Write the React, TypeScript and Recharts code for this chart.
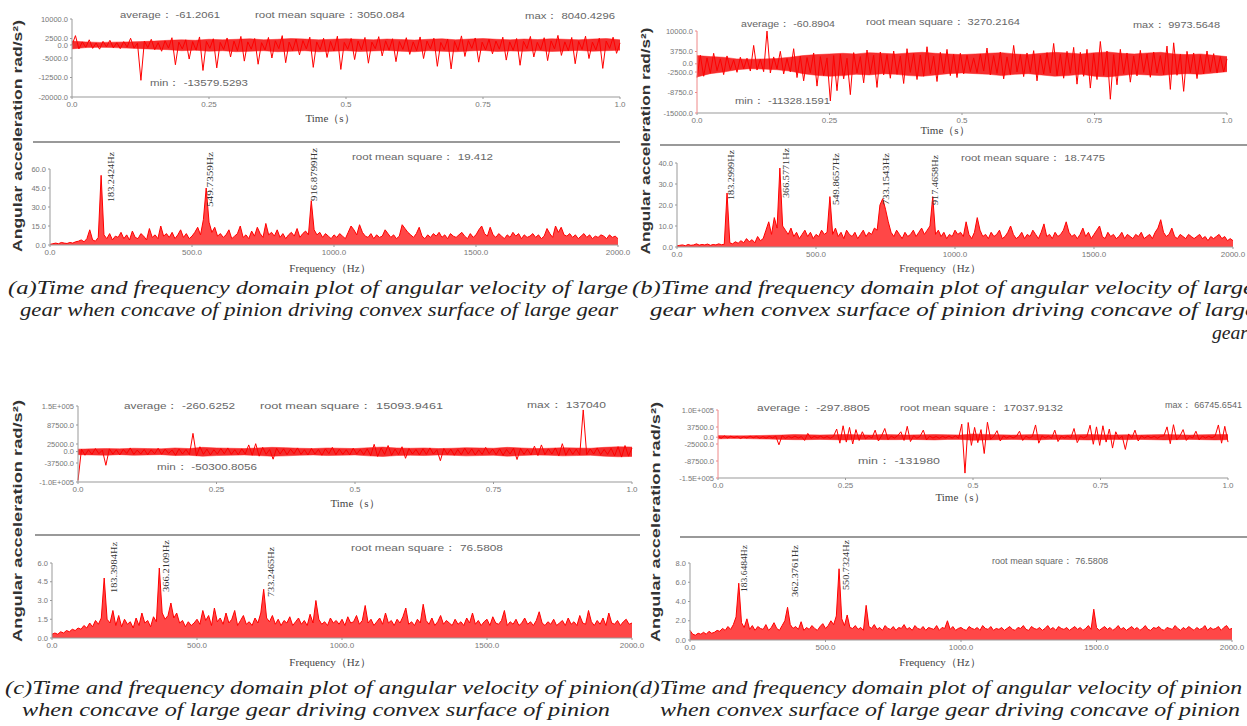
import React from 'react';
import { ComposedChart, Line, Area, XAxis, YAxis } from 'recharts';

// ---------- time-domain signals (sampled 0..1 s) ----------
const timeA = [
  0, 3600, -1500, 1200, -900, 2000, -1300, 800, -1600, 1400, -700, 1800, -1100, 900, -1400, 1300, -800, 2600, -1200, 700,
  -13579, 1500, -1000, 2200, -1800, 900, -2400, 1600, -1200, 2800, -7600, 1100, -1500, 2000, -5400, 1300, -2000, 3100, -9800, 1400,
  -1300, 2400, -8800, 1000, -1700, 2700, -4600, 1500, -2200, 3300, -6200, 1200, -1600, 2500, -7400, 900, -1900, 2900, -5000, 1600,
  -1400, 3600, -6800, 1100, -2100, 2300, -3800, 1700, -1500, 3000, -8600, 1200, -1800, 2600, -4800, 1400, -2300, 3400, -9400, 1000,
  -1600, 2500, -5600, 1500, -1900, 2900, -7000, 1100, -1400, 3200, -4200, 1600, -2000, 2400, -6400, 1300, -1700, 2800, -3600, 1200,
  -2200, 3100, -5200, 1500, -1500, 2600, -8200, 1000, -1800, 2300, -9200, 1400, -2100, 3500, -4400, 1700, -1300, 2700, -6600, 1100,
  -1900, 2200, -3400, 1500, -1600, 3000, -5800, 1200, -2000, 2500, -7800, 1400, -1400, 3300, -4600, 1000, -1800, 2800, -6000, 1600,
  -1500, 3700, -4000, 1200, -2200, 2900, -7200, 1400, -1700, 3400, -5200, 1100, -1900, 2600, -9000, 1500, -1300, 3000, -3200, 800,
];

const timeB = [
  -4200, 2600, -3800, 1800, -2900, 3200, -2100, 1500, -3300, 2400, -1800, 1200, -2600, 2000, -1500, 1700, -2200, 5600, -1900, 1400,
  -2400, 9973, -2800, 2100, -1600, 3800, -3100, 1600, -2500, 4600, -4200, 2300, -5200, 1900, -2700, 3300, -6800, 2200, -3600, 1800,
  -11328, 2500, -8200, 3000, -4600, 1700, -9400, 3400, -2800, 2200, -5800, 4200, -3000, 2600, -7200, 3600, -3400, 2800, -4400, 3900,
  -3200, 2400, -6000, 4600, -2600, 3100, -4800, 2700, -3800, 5200, -3000, 2300, -5400, 3500, -2800, 4400, -3600, 2900, -4200, 3200,
  -3100, 2600, -2400, 1800, -2700, 3000, -2200, 4800, -3400, 2500, -2900, 3600, -4600, 2100, -3300, 5600, -2500, 2800, -3900, 3300,
  -2600, 4000, -5200, 2600, -3100, 3400, -2800, 6200, -3600, 2900, -4400, 3800, -2900, 5000, -6200, 3500, -3800, 4400, -7400, 3100,
  -4800, 6800, -3500, 3900, -10800, 2800, -6400, 4400, -3000, 3300, -5600, 2400, -3700, 4100, -2600, 3000, -4100, 3600, -2800, 2500,
  -3300, 5400, -7800, 6400, -3500, 2900, -8400, 3800, -2700, 3300, -4500, 2600, -3100, 3900, -2400, 3100, -2800, 2200, -2500, 1500,
];

const timeC = [
  -95000, 8000, -12000, 6000, -9000, 10000, -7000, 5000, -45000, 9000, -8000, 6000, -11000, 7000, -6000, 12000, -9000, 5000, -8000, 7000,
  -10000, 6000, -7000, 11000, -9000, 8000, -6000, 5000, -12000, 9000, -8000, 7000, -10000, 60000, -14000, 16000, -9000, 8000, -11000, 6000,
  -8000, 10000, -7000, 12000, -9000, 6000, -10000, 9000, -8000, 22000, -12000, 26000, -15000, 14000, -9000, 7000, -25000, 11000, -8000, 9000,
  -10000, 8000, -7000, 12000, -9000, 6000, -11000, 10000, -8000, 7000, -12000, 9000, -7000, 14000, -10000, 8000, -9000, 6000, -11000, 11000,
  -8000, 7000, -10000, 9000, -13000, 24000, -16000, 12000, -9000, 20000, -12000, 8000, -10000, 16000, -22000, 10000, -8000, 7000, -11000, 9000,
  -9000, 12000, -8000, 6000, -30000, 10000, -9000, 8000, -12000, 7000, -10000, 11000, -8000, 9000, -11000, 6000, -9000, 14000, -7000, 8000,
  -10000, 9000, -12000, 7000, -8000, 11000, -26000, 10000, -9000, 8000, -11000, 18000, -13000, 22000, -10000, 9000, -8000, 12000, -14000, 26000,
  -12000, 10000, -9000, 8000, -11000, 137040, -10000, 9000, -8000, 12000, -10000, 7000, -9000, 11000, -14000, 16000, -18000, 20000, -15000, 12000,
];

const timeD = [
  3000, -4000, 5000, -3000, 4000, -2000, 3000, -5000, 2000, -3000, 4000, -2000, 3000, -4000, 2500, -3500, 3000, -2500, 4000, -28000,
  6000, -5000, 3000, -2500, 4000, -3000, 2500, -12000, 14000, -4000, 3000, -2000, 3500, -3000, 2500, -4000, 3000, 30000, -22000, 42000,
  -18000, 36000, -25000, 28000, -12000, 20000, -6000, 4000, -3000, 26000, -14000, 5000, 32000, -9000, 4000, -3000, 5000, 20000, -12000, 40000,
  -16000, 6000, -4000, 3000, 26000, -10000, 4000, -3000, 2500, -4000, 3000, -2500, 4000, -3000, 5000, -4000, 48000, -131980, 54000, -30000,
  36000, -20000, 28000, -60000, 55000, -8000, 4000, 24000, -14000, 5000, -3000, 4000, -2500, 3000, 22000, -12000, 4000, -3000, 2500, 45000,
  -22000, 5000, -3000, 4000, -4000, 26000, -16000, 3500, -3000, 4000, -2500, 32000, -20000, 4000, -3000, 3000, 44000, -26000, 38000, -30000,
  42000, -18000, 30000, -40000, 20000, -6000, 4000, -45000, 12000, -4000, 26000, -14000, 5000, -3000, 4000, -2500, 3000, -4000, 3500, 5000,
  38000, -24000, 46000, -10000, 4000, 28000, -12000, 3000, -2500, 22000, -10000, 4000, -3000, 3500, -2500, 5000, 45000, -22000, 40000, -18000,
];

// dense-noise envelope of each time signal (41 samples, every 0.025 s)
const bandHiA = [1500, 1200, 1000, 1100, 1200, 1300, 1500, 1800, 2000, 1800, 2200, 2000, 2200, 2400, 2000, 2200, 2500, 2300, 2000, 2200, 2400, 2200, 2000, 2300, 2100, 1900, 2200, 2400, 2000, 2300, 2500, 2200, 2000, 2300, 2100, 2400, 2200, 2000, 2300, 2500, 2000];
const bandLoA = [-1500, -1000, -900, -1000, -1200, -1400, -1600, -1800, -2200, -2000, -2400, -2200, -2600, -2400, -2200, -2600, -2400, -2200, -2600, -2400, -2200, -2500, -2300, -2100, -2400, -2600, -2200, -2400, -2600, -2300, -2100, -2500, -2300, -2400, -2200, -2500, -2300, -2100, -2400, -2200, -2000];
const bandHiB = [2500, 2200, 2000, 1500, 1400, 1500, 1600, 2000, 2500, 2800, 3000, 3200, 3000, 3400, 3200, 3000, 3300, 3500, 3200, 3000, 2800, 3000, 3200, 3400, 3000, 2800, 3200, 3500, 3300, 3000, 3400, 3600, 3200, 3000, 3300, 3500, 3000, 2800, 3000, 2600, 2200];
const bandLoB = [-4000, -3000, -2500, -1800, -1500, -1600, -1800, -2200, -3000, -3500, -3800, -3600, -3200, -3400, -3000, -3200, -3600, -3800, -3400, -3000, -2800, -3000, -3200, -3600, -3200, -3000, -3400, -3800, -3600, -3200, -3800, -4000, -3600, -3200, -3400, -3600, -3200, -3000, -3200, -2800, -2400];
const bandHiC = [8000, 9000, 10000, 9000, 11000, 10000, 9000, 12000, 10000, 14000, 12000, 11000, 10000, 12000, 14000, 13000, 11000, 10000, 12000, 11000, 10000, 13000, 15000, 12000, 11000, 12000, 10000, 11000, 13000, 12000, 11000, 14000, 12000, 10000, 11000, 13000, 12000, 11000, 14000, 16000, 15000];
const bandLoC = [-10000, -11000, -12000, -10000, -12000, -11000, -10000, -13000, -12000, -15000, -13000, -12000, -11000, -13000, -15000, -14000, -12000, -11000, -13000, -12000, -11000, -14000, -16000, -13000, -12000, -13000, -11000, -12000, -14000, -13000, -12000, -15000, -13000, -11000, -12000, -14000, -13000, -12000, -15000, -17000, -16000];
const bandHiD = [6000, 5000, 5000, 6000, 7000, 8000, 10000, 9000, 8000, 9000, 10000, 9000, 8000, 10000, 9000, 8000, 9000, 10000, 9000, 8000, 12000, 10000, 9000, 8000, 9000, 10000, 9000, 8000, 9000, 10000, 9000, 8000, 9000, 8000, 9000, 10000, 9000, 8000, 9000, 10000, 10000];
const bandLoD = [-6000, -5000, -5000, -6000, -7000, -8000, -9000, -9000, -8000, -9000, -10000, -8000, -8000, -9000, -9000, -8000, -9000, -10000, -8000, -8000, -11000, -10000, -9000, -8000, -9000, -10000, -8000, -8000, -9000, -10000, -9000, -8000, -9000, -8000, -9000, -10000, -9000, -8000, -9000, -10000, -9000];

// ---------- spectra (0..2000 Hz, 10 Hz bins) ----------
const freqA = [
  0.5, 1, 1.5, 1, 2, 1.5, 1.2, 2, 1.5, 2.5, 3, 4, 2.5, 5, 12, 4, 3, 6, 55, 8,
  5, 9, 4, 7, 6, 10, 5, 8, 4, 11, 6, 5, 9, 7, 4, 13, 6, 8, 5, 15,
  7, 9, 6, 10, 5, 8, 12, 6, 9, 5, 7, 10, 14, 8, 20, 45, 18, 10, 14, 7,
  9, 6, 8, 12, 5, 7, 9, 15, 6, 8, 5, 11, 7, 14, 9, 6, 17, 8, 10, 7,
  12, 6, 9, 5, 8, 10, 7, 13, 6, 9, 11, 8, 35, 12, 8, 10, 6, 9, 7, 5,
  8, 6, 9, 7, 5, 10, 15, 12, 8, 16, 10, 7, 6, 9, 5, 8, 6, 7, 12, 9,
  6, 8, 5, 7, 16, 13, 10, 8, 6, 9, 14, 7, 5, 8, 6, 9, 7, 10, 6, 8,
  5, 9, 7, 6, 8, 10, 7, 5, 9, 6, 8, 12, 15, 9, 7, 14, 8, 6, 9, 7,
  5, 8, 6, 10, 7, 9, 5, 8, 6, 7, 9, 6, 8, 5, 7, 13, 9, 6, 15, 10,
  14, 8, 7, 9, 6, 8, 5, 7, 9, 6, 8, 5, 7, 6, 8, 7, 5, 8, 6, 7, 5,
];

const freqB = [
  0.5, 0.8, 1, 0.6, 1.2, 0.8, 1, 1.5, 0.9, 1.2, 1, 1.4, 0.8, 1.2, 1, 1.5, 1.1, 1.3, 25.7, 2,
  1.5, 2.5, 1.8, 3, 2, 4, 2.5, 3.5, 2, 5, 3, 4, 8, 12, 6, 14, 9, 37.6, 10, 8,
  6, 9, 5, 7, 4, 6, 8, 5, 7, 4, 6, 5, 8, 6, 7, 24, 6, 9, 5, 7,
  4, 8, 6, 5, 7, 4, 6, 8, 5, 7, 6, 9, 8, 20, 23, 18, 12, 7, 5, 8,
  6, 4, 7, 5, 6, 8, 5, 7, 9, 6, 8, 10, 24, 6, 8, 5, 7, 4, 6, 5,
  8, 6, 7, 5, 12, 6, 4, 7, 14, 8, 5, 6, 4, 7, 5, 6, 8, 4, 5, 7,
  10, 6, 4, 5, 7, 4, 6, 5, 8, 6, 4, 7, 11, 5, 6, 4, 7, 5, 6, 8,
  12, 7, 5, 6, 4, 6, 9, 5, 7, 4, 6, 8, 10, 5, 4, 7, 5, 6, 4, 5,
  7, 4, 6, 5, 4, 6, 5, 7, 4, 5, 6, 4, 7, 9, 13, 7, 5, 6, 9, 5,
  4, 6, 5, 4, 6, 5, 4, 5, 6, 4, 5, 3, 5, 4, 5, 6, 4, 5, 3, 4, 3,
];

const freqC = [
  0.3, 0.4, 0.3, 0.5, 0.4, 0.6, 0.5, 0.7, 0.6, 0.8, 0.7, 1.0, 0.8, 1.2, 0.9, 1.4, 1.1, 1.6, 4.8, 1.5,
  1.2, 2.2, 1.0, 1.8, 0.9, 1.5, 1.1, 1.3, 0.8, 1.6, 1.0, 2.0, 1.2, 1.4, 0.9, 1.7, 1.3, 5.6, 2.0, 1.5,
  1.8, 2.8, 1.6, 2.0, 1.2, 1.4, 0.9, 1.3, 1.0, 1.2, 1.5, 1.1, 2.2, 1.4, 1.8, 1.0, 2.4, 1.3, 1.6, 1.1,
  2.0, 1.2, 1.5, 2.2, 1.0, 1.4, 1.8, 1.1, 1.3, 1.0, 1.6, 1.2, 2.0, 3.9, 1.6, 1.3, 1.8, 1.1, 1.5, 1.0,
  1.4, 1.2, 1.7, 1.0, 1.3, 1.6, 1.1, 1.4, 1.0, 1.9, 1.2, 3.0, 1.5, 1.1, 1.3, 1.0, 1.6, 1.2, 1.4, 1.1,
  1.5, 1.0, 1.7, 1.2, 1.3, 1.8, 1.1, 1.4, 2.6, 1.2, 1.5, 1.0, 1.3, 1.6, 1.1, 2.0, 1.2, 1.4, 1.0, 1.5,
  1.2, 1.7, 2.4, 1.1, 1.3, 1.0, 1.5, 1.2, 2.7, 1.4, 1.1, 1.6, 1.0, 1.3, 1.8, 1.1, 1.4, 1.2, 1.0, 1.5,
  1.1, 1.3, 1.0, 1.6, 1.2, 2.0, 1.1, 1.4, 1.0, 1.3, 1.5, 1.0, 1.7, 1.2, 1.1, 1.4, 2.2, 1.0, 1.3, 1.1,
  1.5, 1.0, 1.2, 1.6, 1.1, 1.3, 1.0, 1.4, 2.1, 1.2, 1.0, 1.3, 1.1, 1.5, 1.0, 1.2, 1.4, 1.0, 1.6, 1.1,
  1.3, 1.0, 1.8, 1.2, 1.1, 2.2, 1.3, 1.0, 1.4, 1.1, 1.6, 1.0, 2.0, 1.2, 1.1, 1.4, 1.0, 1.3, 1.5, 1.1, 1.2,
];

const freqD = [
  1.0, 0.6, 0.5, 0.7, 0.6, 0.8, 0.6, 0.9, 0.7, 0.8, 1.0, 0.9, 1.2, 1.0, 1.4, 1.1, 1.6, 2.4, 5.9, 1.8,
  1.3, 2.2, 1.1, 1.5, 1.0, 1.4, 1.2, 1.1, 1.6, 1.0, 1.3, 1.8, 1.2, 1.0, 1.5, 2.0, 3.4, 1.6, 1.2, 1.4,
  1.1, 1.9, 1.0, 1.3, 1.1, 1.5, 1.2, 1.0, 1.4, 1.7, 1.2, 1.5, 2.0, 1.6, 2.5, 7.4, 2.2, 1.5, 2.6, 1.3,
  1.2, 1.5, 1.1, 1.3, 1.0, 3.6, 1.4, 1.2, 1.6, 1.1, 1.3, 1.0, 1.5, 1.2, 1.1, 1.4, 1.0, 1.3, 1.2, 1.6,
  1.1, 1.3, 1.0, 1.5, 1.2, 1.1, 1.4, 1.0, 1.3, 1.2, 1.1, 1.5, 1.0, 1.3, 1.2, 2.0, 1.1, 1.4, 1.0, 1.2,
  1.3, 1.1, 1.0, 1.4, 1.2, 1.1, 1.3, 1.0, 1.5, 1.2, 1.1, 1.4, 1.0, 1.2, 1.1, 1.3, 1.0, 1.2, 1.4, 1.1,
  1.0, 1.3, 1.2, 1.5, 1.1, 1.0, 1.4, 1.2, 1.1, 1.3, 1.0, 1.2, 1.5, 1.1, 1.3, 1.0, 1.4, 1.2, 1.1, 1.3,
  1.0, 1.2, 1.4, 1.1, 1.3, 1.0, 1.2, 1.5, 1.1, 3.2, 1.3, 1.0, 1.2, 1.4, 1.1, 1.3, 1.0, 1.2, 1.5, 1.1,
  1.3, 1.0, 1.2, 1.4, 1.1, 1.3, 1.0, 1.2, 1.5, 1.1, 1.0, 1.3, 1.2, 1.4, 1.1, 1.0, 1.3, 1.2, 1.1, 1.5,
  1.2, 1.0, 1.3, 1.1, 1.4, 1.2, 1.0, 1.3, 1.1, 1.2, 1.5, 1.0, 1.3, 1.1, 1.2, 1.4, 1.0, 1.3, 1.5, 1.1, 1.2,
];

// ---------- tick labels ----------
const timeTicks = [0, 0.25, 0.5, 0.75, 1];
const timeTickLabels = ['0.0', '0.25', '0.5', '0.75', '1.0'];
const freqTicks = [0, 500, 1000, 1500, 2000];
const freqTickLabels = ['0.0', '500.0', '1000.0', '1500.0', '2000.0'];

const yTicksTA = [-20000, -12500, -5000, 0, 2500, 10000];
const yLabelsTA = ['-20000.0', '-12500.0', '-5000.0', '0.0', '2500.0', '10000.0'];
const yTicksFA = [0, 15, 30, 45, 60];
const yLabelsFA = ['0.0', '15.0', '30.0', '45.0', '60.0'];
const yTicksTB = [-15000, -8750, -2500, 0, 3750, 10000];
const yLabelsTB = ['-15000.0', '-8750.0', '-2500.0', '0.0', '3750.0', '10000.0'];
const yTicksFB = [0, 10, 20, 30, 40];
const yLabelsFB = ['0.0', '10.0', '20.0', '30.0', '40.0'];
const yTicksTC = [-100000, -37500, 0, 25000, 87500, 150000];
const yLabelsTC = ['-1.0E+005', '-37500.0', '0.0', '25000.0', '87500.0', '1.5E+005'];
const yTicksFC = [0, 1.5, 3, 4.5, 6];
const yLabelsFC = ['0.0', '1.5', '3.0', '4.5', '6.0'];
const yTicksTD = [-150000, -87500, -25000, 0, 37500, 100000];
const yLabelsTD = ['-1.5E+005', '-87500.0', '-25000.0', '0.0', '37500.0', '1.0E+005'];
const yTicksFD = [0, 2, 4, 6, 8];
const yLabelsFD = ['0.0', '2.0', '4.0', '6.0', '8.0'];

type PlotProps = {
  values: number[]; xMax: number; xt: number[]; xl: string[];
  yt: number[]; yl: string[]; dom: [number, number];
  L: number; R: number; T: number; B: number; yColor?: string;
  hi?: number[]; lo?: number[];
};

const YW = 60, MT = 8, MR = 16, XH = 16;
const RED = '#ff0000';

function Plot({ values, xMax, xt, xl, yt, yl, dom, L, R, T, B, yColor, hi, lo }: PlotProps) {
  const lineData = values.map((v, i) => ({ x: (i * xMax) / (values.length - 1), v }));
  const bandData = hi && lo ? hi.map((h, i) => ({ x: (i * xMax) / (hi.length - 1), band: [lo[i], h] })) : null;
  const width = YW + (R - L) + MR;
  const height = MT + (B - T) + XH;
  const isFreq = !bandData;
  return (
    <div style={{ position: 'absolute', left: L - YW, top: T - MT }}>
      <ComposedChart width={width} height={height} data={lineData} margin={{ top: MT, right: MR, bottom: 0, left: 0 }}>
        <XAxis dataKey="x" type="number" domain={[0, xMax]} ticks={xt} interval={0}
          tickFormatter={(v: number) => xl[xt.indexOf(v)] ?? ''} height={XH}
          tick={{ fontSize: 8, fill: '#777', fontFamily: 'Liberation Sans' }} stroke="#999" tickSize={2} />
        <YAxis type="number" domain={dom} ticks={yt} interval={0} allowDataOverflow
          tickFormatter={(v: number) => yl[yt.indexOf(v)] ?? ''} width={YW}
          tick={{ fontSize: 7.5, fill: '#777', fontFamily: 'Liberation Sans' }} stroke={yColor ?? '#999'} tickSize={2} />
        {bandData && (
          <Area data={bandData} dataKey="band" type="linear" stroke="#f22" strokeWidth={0.5} fill="#f31010" fillOpacity={0.88} isAnimationActive={false} />
        )}
        {isFreq ? (
          <Area dataKey="v" type="linear" stroke={RED} strokeWidth={1} fill={RED} fillOpacity={0.72} dot={false} isAnimationActive={false} />
        ) : (
          <Line dataKey="v" stroke={RED} strokeWidth={1} dot={false} isAnimationActive={false} />
        )}
      </ComposedChart>
    </div>
  );
}

const statFont = { fontFamily: 'Liberation Sans', fontSize: 9.5, fill: '#666' };

function T({ x, y, w, s }: { x: number; y: number; w: number; s: string }) {
  return <text x={x} y={y} textLength={w} lengthAdjust="spacingAndGlyphs" style={statFont}>{s}</text>;
}

function Peak({ x, y1, y2, s }: { x: number; y1: number; y2: number; s: string }) {
  return (
    <text transform={`translate(${x + 3},${y2}) rotate(-90)`} textLength={y2 - y1} lengthAdjust="spacingAndGlyphs"
      style={{ fontFamily: "'Liberation Serif', serif", fontSize: 9, fill: '#333' }}>{s}</text>
  );
}

function YTitle({ x, cy, len }: { x: number; cy: number; len: number }) {
  return (
    <text transform={`translate(${x + 5},${cy}) rotate(-90)`} textAnchor="middle" textLength={len} lengthAdjust="spacingAndGlyphs"
      style={{ fontFamily: 'Liberation Sans', fontWeight: 'bold', fontSize: 13, fill: '#333' }}>Angular acceleration rad/s²)</text>
  );
}

function AxisLabel({ cx, y, s }: { cx: number; y: number; s: string }) {
  return <text x={cx} y={y} textAnchor="middle" style={{ fontFamily: "'Liberation Serif', serif", fontSize: 11, fill: '#444' }}>{s}</text>;
}

function Cap({ x, y, w, s }: { x: number; y: number; w: number; s: string }) {
  return (
    <text x={x} y={y} textLength={w} lengthAdjust="spacingAndGlyphs"
      style={{ fontFamily: "'Liberation Serif', 'Times New Roman', serif", fontStyle: 'italic', fontSize: 18, fill: '#222' }}>{s}</text>
  );
}

export default function App() {
  return (
    <div style={{ position: 'fixed', left: 0, top: 0, width: 1247, height: 726, overflow: 'hidden', background: '#fff' }}>
      <Plot values={timeA} hi={bandHiA} lo={bandLoA} xMax={1} xt={timeTicks} xl={timeTickLabels} yt={yTicksTA} yl={yLabelsTA} dom={[-20000, 10000]} L={72} R={620} T={19} B={97} />
      <Plot values={freqA} xMax={2000} xt={freqTicks} xl={freqTickLabels} yt={yTicksFA} yl={yLabelsFA} dom={[0, 60]} L={50} R={618} T={169} B={245} />
      <Plot values={timeB} hi={bandHiB} lo={bandLoB} xMax={1} xt={timeTicks} xl={timeTickLabels} yt={yTicksTB} yl={yLabelsTB} dom={[-15000, 10000]} L={697} R={1227} T={31} B={113} yColor="#e88" />
      <Plot values={freqB} xMax={2000} xt={freqTicks} xl={freqTickLabels} yt={yTicksFB} yl={yLabelsFB} dom={[0, 40]} L={677} R={1233} T={163} B={247} />
      <Plot values={timeC} hi={bandHiC} lo={bandLoC} xMax={1} xt={timeTicks} xl={timeTickLabels} yt={yTicksTC} yl={yLabelsTC} dom={[-100000, 150000]} L={78} R={632} T={406} B={482} />
      <Plot values={freqC} xMax={2000} xt={freqTicks} xl={freqTickLabels} yt={yTicksFC} yl={yLabelsFC} dom={[0, 6]} L={52} R={632} T={563} B={638} />
      <Plot values={timeD} hi={bandHiD} lo={bandLoD} xMax={1} xt={timeTicks} xl={timeTickLabels} yt={yTicksTD} yl={yLabelsTD} dom={[-150000, 100000]} L={718} R={1228} T={410} B={478} yColor="#e88" />
      <Plot values={freqD} xMax={2000} xt={freqTicks} xl={freqTickLabels} yt={yTicksFD} yl={yLabelsFD} dom={[0, 8]} L={690} R={1232} T={563} B={640} />

      <svg width={1247} height={726} style={{ position: 'absolute', left: 0, top: 0, pointerEvents: 'none' }}>
        <line x1={33} x2={620} y1={142} y2={142} stroke="#999" strokeWidth={2} />
        <line x1={660} x2={1247} y1={145} y2={145} stroke="#999" strokeWidth={2} />
        <line x1={35} x2={640} y1={535} y2={535} stroke="#999" strokeWidth={2} />
        <line x1={680} x2={1247} y1={537} y2={537} stroke="#999" strokeWidth={2} />

        {/* panel a */}
        <T x={120} y={18} w={100} s="average： -61.2061" />
        <T x={255} y={18} w={150} s="root mean square：3050.084" />
        <T x={525} y={19} w={90} s="max： 8040.4296" />
        <T x={150} y={86} w={98} s="min： -13579.5293" />
        <T x={352} y={160} w={141} s="root mean square： 19.412" />
        <AxisLabel cx={330} y={122} s="Time（s）" />
        <AxisLabel cx={330} y={272} s="Frequency（Hz）" />
        <Peak x={111} y1={152} y2={202} s="183.2424Hz" />
        <Peak x={210} y1={152} y2={207} s="549.7359Hz" />
        <Peak x={314} y1={148} y2={201} s="916.8799Hz" />
        <YTitle x={17} cy={136} len={232} />

        {/* panel b */}
        <T x={741} y={27} w={94} s="average： -60.8904" />
        <T x={866} y={25} w={154} s="root mean square： 3270.2164" />
        <T x={1133} y={28} w={87} s="max： 9973.5648" />
        <T x={735} y={104} w={95} s="min： -11328.1591" />
        <T x={961} y={161} w={144} s="root mean square： 18.7475" />
        <AxisLabel cx={945} y={134} s="Time（s）" />
        <AxisLabel cx={940} y={272} s="Frequency（Hz）" />
        <Peak x={731} y1={150} y2={200} s="183.2999Hz" />
        <Peak x={786} y1={148} y2={198} s="366.5771Hz" />
        <Peak x={836} y1={153} y2={205} s="549.8657Hz" />
        <Peak x={886} y1={153} y2={205} s="733.1543Hz" />
        <Peak x={935} y1={155} y2={205} s="917.4658Hz" />
        <YTitle x={645} cy={141} len={227} />

        {/* panel c */}
        <T x={124} y={409} w={111} s="average： -260.6252" />
        <T x={260} y={409} w={183} s="root mean square： 15093.9461" />
        <T x={527} y={408} w={79} s="max： 137040" />
        <T x={157} y={470} w={100} s="min： -50300.8056" />
        <T x={351} y={551} w={152} s="root mean square： 76.5808" />
        <AxisLabel cx={355} y={507} s="Time（s）" />
        <AxisLabel cx={330} y={666} s="Frequency（Hz）" />
        <Peak x={114} y1={542} y2={593} s="183.3984Hz" />
        <Peak x={166} y1={540} y2={592} s="366.2109Hz" />
        <Peak x={271} y1={547} y2={597} s="733.2465Hz" />
        <YTitle x={17} cy={521} len={242} />

        {/* panel d */}
        <T x={757} y={411} w={113} s="average： -297.8805" />
        <T x={900} y={411} w={163} s="root mean square： 17037.9132" />
        <T x={1165} y={408} w={77} s="max： 66745.6541" />
        <T x={858} y={464} w={82} s="min： -131980" />
        <T x={992} y={564} w={116} s="root mean square： 76.5808" />
        <AxisLabel cx={960} y={501} s="Time（s）" />
        <AxisLabel cx={940} y={666} s="Frequency（Hz）" />
        <Peak x={744} y1={545} y2={592} s="183.6484Hz" />
        <Peak x={795} y1={545} y2={597} s="362.3761Hz" />
        <Peak x={846} y1={540} y2={590} s="550.7324Hz" />
        <YTitle x={655} cy={522} len={240} />

        {/* captions */}
        <Cap x={8} y={294} w={620} s="(a)Time and frequency domain plot of angular velocity of large" />
        <Cap x={20} y={316} w={598} s="gear when concave of pinion driving convex surface of large gear" />
        <Cap x={632} y={294} w={622} s="(b)Time and frequency domain plot of angular velocity of large" />
        <Cap x={650} y={316} w={606} s="gear when convex surface of pinion driving concave of large" />
        <Cap x={1212} y={339} w={36} s="gear" />
        <Cap x={5} y={694} w={627} s="(c)Time and frequency domain plot of angular velocity of pinion" />
        <Cap x={22} y={716} w={588} s="when concave of large gear driving convex surface of pinion" />
        <Cap x={632} y={694} w={610} s="(d)Time and frequency domain plot of angular velocity of pinion" />
        <Cap x={660} y={716} w={580} s="when convex surface of large gear driving concave of pinion" />
      </svg>
    </div>
  );
}
